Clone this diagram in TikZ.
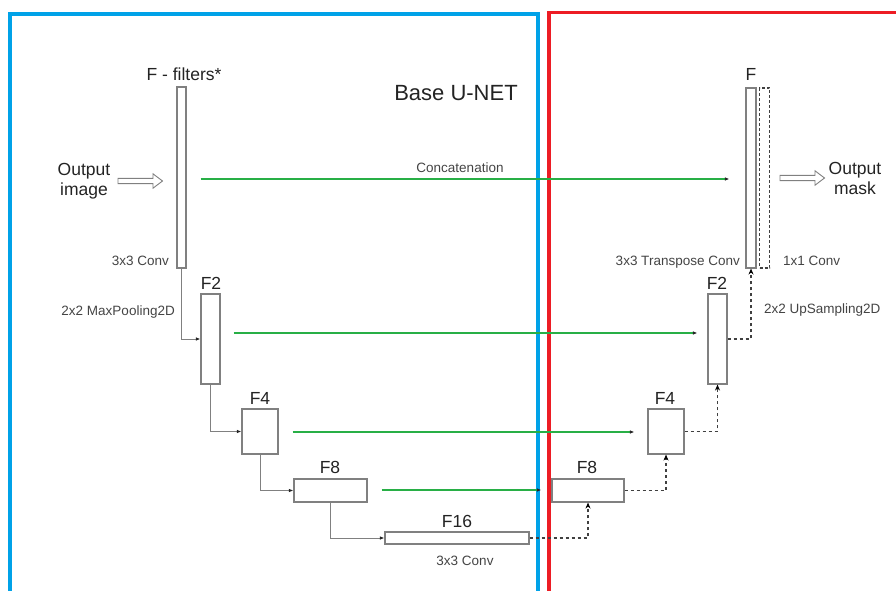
\documentclass[tikz,border=0pt]{standalone}
\usepackage{fontspec}
\setmainfont{Liberation Sans}
\usetikzlibrary{arrows.meta}
\definecolor{frameblue}{RGB}{0,162,232}
\definecolor{framered}{RGB}{237,28,36}
\definecolor{skipgreen}{RGB}{40,175,70}
\definecolor{boxgray}{RGB}{128,128,128}
\definecolor{txt}{RGB}{35,35,35}
\begin{document}
\begin{tikzpicture}[x=1pt,y=-1pt,
  layer/.style={draw=boxgray, line width=1.1pt, fill=white, inner sep=0pt},
  dashlayer/.style={draw=black!75, line width=1.1pt, dash pattern=on 3pt off 2pt, inner sep=0pt},
  lbl/.style={inner sep=0pt, text=txt, font=\fontsize{17.5}{20}\selectfont},
  sml/.style={inner sep=0pt, text=txt!85, font=\fontsize{13.5}{16}\selectfont},
  big/.style={inner sep=0pt, text=txt, font=\fontsize{22}{26}\selectfont},
  conn/.style={draw=boxgray, line width=1pt, -{Latex[length=4.5pt,width=3.5pt,color=black!85]}},
  dconn/.style={draw=black!75, line width=1.5pt, dash pattern=on 3pt off 3pt, -{Stealth[length=6pt,width=5pt,color=black]}},
  skip/.style={draw=skipgreen, line width=1.6pt, -{Latex[length=4.5pt,width=3.5pt,color=black!85]}},
  hollow/.style={draw=boxgray, line width=0.9pt, fill=white, line join=miter}
]
\useasboundingbox (0,0) rectangle (896,591);

% frames
\draw[frameblue, line width=4pt] (10,600) -- (10,14) -- (538,14) -- (538,600);
\draw[framered, line width=3.5pt] (549,600) -- (549,12.5) -- (900,12.5);

% encoder boxes
\node[layer, minimum width=9pt, minimum height=181pt] (F) at (181.5,177.5) {};
\node[layer, minimum width=19pt, minimum height=90pt] (F2) at (210.5,339) {};
\node[layer, minimum width=36pt, minimum height=45pt] (F4) at (260,431.5) {};
\node[layer, minimum width=73pt, minimum height=23pt] (F8) at (330.5,490.5) {};
\node[layer, minimum width=144pt, minimum height=12pt] (F16) at (457,538) {};

% decoder boxes
\node[layer, minimum width=72pt, minimum height=23pt] (F8r) at (588,490.5) {};
\node[layer, minimum width=36pt, minimum height=45pt] (F4r) at (666,431.5) {};
\node[layer, minimum width=19pt, minimum height=90pt] (F2r) at (717.5,339) {};
\node[layer, minimum width=10pt, minimum height=180pt] (Fr) at (751,178) {};
\node[dashlayer, minimum width=10pt, minimum height=180pt] (C1) at (764.5,178) {};

% labels
\node[lbl, anchor=base] (tF) at (184,81) {F - filters*};
\node[big, anchor=base] (tBase) at (456,101) {Base U-NET};
\node[lbl, align=center] (img) at (84,181) {Output\\image};
\node[sml, anchor=base east] (tconvA) at (169,265) {3x3 Conv};
\node[sml, anchor=base east] (tpool) at (175,315.5) {2x2 MaxPooling2D};
\node[sml, anchor=base] (tcat) at (460,172) {Concatenation};
\node[lbl, anchor=base] (tF2) at (211,289) {F2};
\node[lbl, anchor=base] (tF4) at (260,404) {F4};
\node[lbl, anchor=base] (tF8) at (330,473) {F8};
\node[lbl, anchor=base] (tF16) at (457,527) {F16};
\node[sml, anchor=base] (tconvB) at (465,565) {3x3 Conv};
\node[lbl, anchor=base] (tF8r) at (587,473) {F8};
\node[lbl, anchor=base] (tF4r) at (665,404) {F4};
\node[lbl, anchor=base] (tF2r) at (717,289) {F2};
\node[lbl, anchor=base] (tFr) at (751,81) {F};
\node[sml, anchor=base east] (ttrans) at (740,265) {3x3 Transpose Conv};
\node[sml, anchor=base west] (tone) at (783,265) {1x1 Conv};
\node[sml, anchor=base west] (tup) at (764,313) {2x2 UpSampling2D};
\node[lbl, align=center] (mask) at (855,178) {Output\\mask};

% hollow arrows (tail point given)
\coordinate (inarr) at (118,181);
\coordinate (outarr) at (780,178);
\foreach \a in {inarr,outarr}
  \draw[hollow] (\a) ++(0,-2.6) -- ++(35,0) -- ++(0,-4.6) -- ++(9.5,7.2)
        -- ++(-9.5,7.2) -- ++(0,-4.6) -- ++(-35,0) -- cycle;

% encoder path
\draw[conn] (F.south) |- (F2.west);
\draw[conn] (F2.south) |- (F4.west);
\draw[conn] (F4.south) |- (F8.west);
\draw[conn] (F8.south) |- (F16.west);

% decoder path
\draw[dconn] (F16.east) -| (F8r.south);
\draw[dconn] (F8r.east) -| (F4r.south);
\draw[dconn] (F4r.east) -| (F2r.south);
\draw[dconn] (F2r.east) -| (Fr.south);

% skip connections
\draw[skip, shorten <=14pt, shorten >=16pt] ([yshift=-1.5pt]F.east) -- ([yshift=-1.5pt]F.east -| Fr.west);
\draw[skip, shorten <=13pt, shorten >=10pt] ([yshift=6pt]F2.east) -- ([yshift=6pt]F2.east -| F2r.west);
\draw[skip, shorten <=14pt, shorten >=13pt] ([yshift=-0.5pt]F4.east) -- ([yshift=-0.5pt]F4.east -| F4r.west);
\draw[skip, shorten <=14pt, shorten >=10pt] ([yshift=0.5pt]F8.east) -- ([yshift=0.5pt]F8.east -| F8r.west);
\end{tikzpicture}
\end{document}
